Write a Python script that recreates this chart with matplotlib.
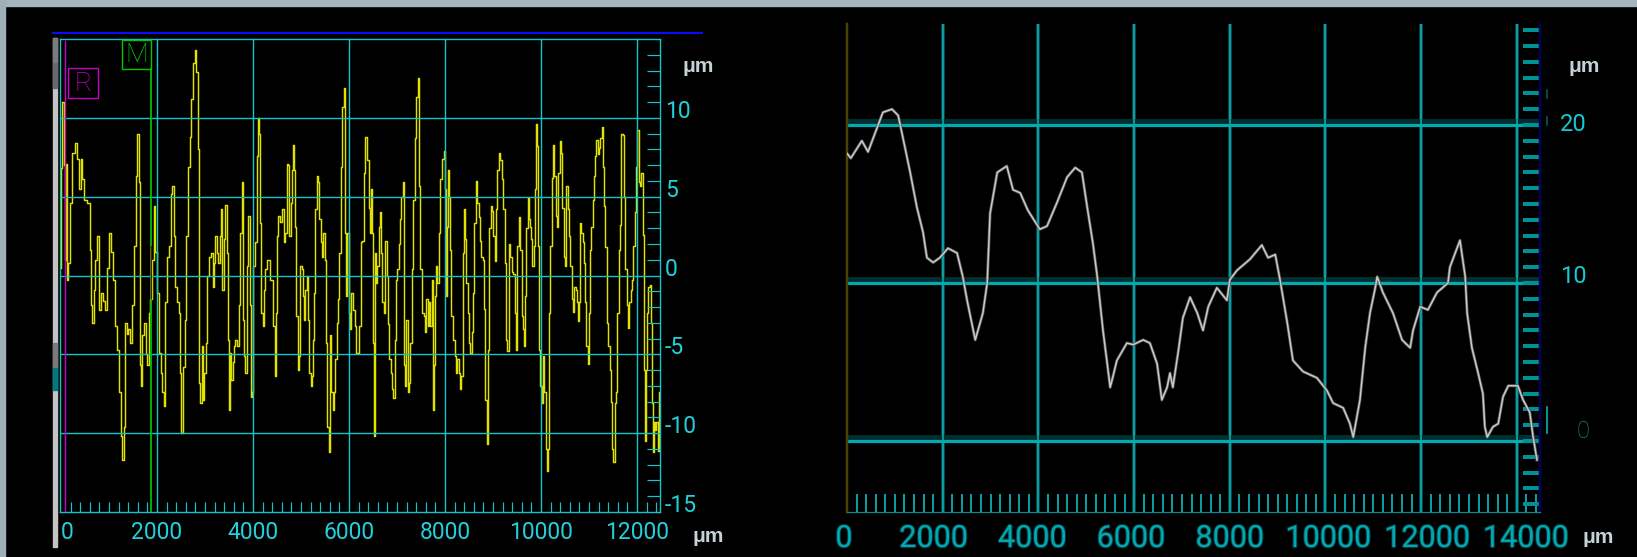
import numpy as np
import matplotlib
matplotlib.use("Agg")
import matplotlib.pyplot as plt
from matplotlib.lines import Line2D
from matplotlib.patches import Rectangle
from matplotlib.transforms import blended_transform_factory, ScaledTranslation
import matplotlib.patheffects as pe

# ---------------- data ----------------
# left profile (yellow), x in um, z in um
left_x = [0, 21, 42, 69, 90, 111, 139, 174, 215, 257, 312, 354, 396, 430, 465, 507, 583, 611, 638, 666,
          701, 736, 777, 812, 854, 895, 951, 985, 1027, 1062, 1103, 1145, 1187, 1228, 1263, 1298, 1326,
          1346, 1388, 1423, 1464, 1506, 1541, 1575, 1603, 1631, 1659, 1679, 1714, 1749, 1777, 1811, 1846,
          1881, 1909, 1950, 1985, 2020, 2054, 2096, 2124, 2158, 2193, 2235, 2270, 2304, 2332, 2367, 2394,
          2436, 2464, 2491, 2526, 2561, 2596, 2630, 2665, 2700, 2734, 2769, 2804, 2839, 2859, 2887, 2915,
          2943, 2970, 2998, 3033, 3067, 3102, 3144,
          3173, 3201, 3229, 3256, 3291, 3319, 3347, 3374, 3409, 3444, 3478, 3499, 3520, 3541, 3562, 3589,
          3617, 3652, 3687, 3721, 3756, 3784, 3805, 3832, 3853, 3881, 3916, 3943, 3964, 3992, 4013, 4061,
          4089, 4117, 4145, 4165, 4186, 4214, 4242, 4270, 4325, 4381, 4408, 4436, 4464, 4492, 4512, 4533,
          4589, 4630, 4658, 4686, 4714, 4741, 4769, 4797, 4825, 4846, 4866, 4894, 4915, 4943, 4971, 4998,
          5026, 5054, 5075, 5102, 5130, 5158, 5186, 5213, 5241, 5262, 5283, 5311, 5338, 5366, 5394, 5422,
          5449, 5477, 5505, 5533, 5560, 5588, 5616, 5644, 5671, 5699, 5727, 5755, 5782, 5810, 5845, 5873,
          5900, 5921, 5949, 5977, 6005, 6032, 6060, 6088, 6143, 6171, 6199, 6227, 6254,
          6291, 6326, 6361, 6395, 6423, 6444, 6472, 6492, 6506, 6534, 6555, 6583, 6603, 6631, 6659, 6687,
          6708, 6742, 6770, 6798, 6825, 6853, 6881, 6909, 6937, 6964, 6992, 7020, 7048, 7075, 7110, 7138,
          7159, 7179, 7207, 7235, 7263, 7290, 7318, 7353, 7381, 7415, 7443, 7471, 7492, 7540, 7568, 7596,
          7624, 7651, 7679, 7707, 7735, 7762, 7783, 7804, 7832, 7853, 7887, 7922, 7957, 7984, 8005, 8026,
          8047, 8068, 8089, 8109, 8130, 8158, 8186, 8214, 8241, 8269, 8297, 8325, 8352, 8380, 8408, 8429,
          8456, 8484, 8512, 8540, 8567, 8595, 8623, 8651, 8685, 8713, 8741, 8769, 8796, 8824, 8852, 8880,
          8907, 8935, 8963, 8991, 9019, 9046, 9074, 9102, 9137, 9171, 9199, 9227, 9255, 9282, 9310, 9345,
          9379,
          9401, 9436, 9464, 9491, 9519, 9554, 9582, 9609, 9637, 9665, 9686, 9707, 9734, 9755, 9783, 9804,
          9832, 9859, 9880, 9894, 9922, 9943, 9970, 9998, 10026, 10054, 10081, 10109, 10137, 10158, 10179,
          10206, 10234, 10262, 10290, 10317, 10345, 10373, 10401, 10428, 10456, 10484, 10512, 10539, 10567,
          10595, 10623, 10650, 10678, 10706, 10734, 10761, 10782, 10803, 10824, 10852, 10879, 10907, 10935,
          10956, 10984, 11004, 11032, 11060, 11088, 11115, 11143, 11171, 11199, 11226, 11254, 11282, 11310,
          11331, 11358, 11386, 11414, 11442, 11469, 11497, 11525, 11553, 11580, 11608, 11636, 11664, 11691,
          11719, 11747, 11775, 11802, 11830, 11858, 11886, 11914, 11941, 11969, 11997, 12025, 12052, 12080,
          12108, 12129, 12157, 12177, 12198, 12226, 12254, 12275, 12296, 12316, 12337, 12365, 12393, 12421,
          12448, 12476]
left_z = [0.5, 6.8, 11.0, 7.0, 1.0, 7.1, -0.3, 0.8, 4.6, 7.8, 8.4, 7.4, 5.5, 7.4, 6.1, 4.8, 4.6, 1.6, -1.9, -3.0,
          -0.9, 1.0, 2.5, -2.2, -1.1, -1.6, -2.2, 0.5, 2.7, 1.5, -0.3, -3.2, -4.7, -7.4, -10.2, -11.7, -9.6,
          -3.0, -3.7, -3.4, -4.3, -1.9, 1.9, 6.3, 9.0, 5.9, -5.7, -7.0, -3.8, -3.0, -5.0, -5.7, -2.4,
          -1.5, 1.0, 4.4, 1.5, -1.1, -4.9, -6.2, -7.4, -8.3, -1.7, 1.2, 1.9, 5.2, 5.7, 2.5, -0.7,
          -1.7, -2.4, -6.2, -10.0, -5.8, -2.8, 2.5, 6.9, 8.8, 11.2, 13.5, 14.3, 12.9, 8.0, -6.8, -8.1,
          -4.5, -7.9, -6.2, -4.3, 0.0, 1.2, 1.4,
          -0.7, 0.8, 2.5, 1.4, 0.8, 2.5, 4.2, -0.9, 2.3, 4.5, 1.4, -4.1, -8.5, -4.9, -6.6, -5.5,
          -4.5, -4.1, -4.5, -1.9, 2.7, 5.9, -2.8, -5.1, -6.2, 0.6, 3.8, -1.9, -7.7, -7.4, 0.6, 2.1,
          7.6, 10.0, 9.0, 3.3, -2.4, -3.2, -0.9, 0.4, 1.0, -0.3, -0.3, -3.2, -6.4, -2.4, 2.5, 3.8,
          3.4, 4.2, 2.1, 2.7, 7.1, 7.0, 2.5, 4.6, 6.7, 8.3, 6.7, 3.1, -2.6, -6.0, -5.1, 0.6,
          0.4, -1.3, -2.8, -0.9, 0.0, -2.8, -6.2, -7.0, -6.4, -4.1, -1.1, 4.2, 6.3, 5.9, 3.6, 2.1,
          1.2, 2.7, 1.0, -4.3, -9.6, -11.2, -3.8, -7.4, -8.5, -7.4, -5.3, -3.0, -1.5, 1.4, 6.9, 10.7,
          11.9, 2.7, -1.3, 2.7, -2.4, -3.4, -1.1, -2.2, -3.2, -4.9, -4.9, -3.2, 2.1,
          2.2, 6.5, 8.8, 7.3, 4.3, 2.7, 5.5, 2.7, -4.3, -10.2, 1.4, -0.5, 0.6, 3.1, 4.0, 1.4,
          -1.7, -2.4, 2.2, 0.0, -3.1, -5.3, -6.2, -7.2, -7.8, -4.1, -0.3, 0.4, 2.0, 3.6, 5.0, 5.9,
          -5.7, -7.0, -2.8, -7.4, -6.8, -4.3, 0.4, 4.8, 8.7, 11.3, 12.5, 5.7, 0.4, -2.4, -2.6, -3.6,
          -1.5, -3.2, -1.7, -3.2, -0.3, -8.5, -5.7, -1.3, 0.6, -0.5, 2.7, 6.1, 7.4, 7.9, 5.5, -1.3,
          3.1, 6.7, 5.0, 1.6, -2.6, -2.6, -4.1, -5.1, -6.2, -5.3, -6.2, -7.2, -6.4, 1.4, 4.2, 2.3,
          -0.5, -2.4, -4.3, -4.9, -3.6, -1.1, 3.3, 6.0, 4.6, 3.7, 2.2, 1.2, 1.0, -2.1, -7.9, -10.7,
          -4.7, 3.0, 4.4, 4.1, 2.5, 0.9, 4.2, 6.7, 7.8, 7.3, 6.1, 4.2, 0.8, -4.1, -4.8, 2.0,
          1.2,
          0.2, 0.1, -2.4, -4.7, 1.9, 3.7, 1.6, -2.6, -3.4, -4.5, -1.3, 3.0, 4.9, 3.6, 3.1, 2.3,
          0.6, 1.9, 5.5, 9.6, 8.2, 1.9, -4.7, -7.0, -8.1, -5.1, -7.4, -11.0, -12.4, -11.0, -2.4,
          1.9, 6.2, 8.3, 6.3, 3.8, 3.1, 6.5, 8.5, 7.8, 4.3, 1.2, 0.6, 5.7, 4.2,
          2.5, 0.6, -1.5, -2.3, -0.7, -0.9, -1.7, -2.9, -1.7, 3.3, 2.7, 2.1, 0.8, -1.7,
          -4.5, -5.6, -2.4, 1.6, 3.1, 4.8, 6.3, 7.6, 8.6, 7.7, 8.1, 8.7, 9.4, 6.9,
          4.4, 1.8, -3.0, -4.5, -6.0, -8.0, -11.0, -11.8, -8.1, -7.4, -2.4, 1.6, 3.2, 9.0,
          8.9, 5.0, 0.4, -1.9, -3.3, -1.7, -0.9, -0.3, 1.9, 4.0, 6.9, 9.2, 5.9, 5.7,
          6.5, 2.6, -6.0, -10.5, -6.0, -2.4, -0.7, -0.6, -3.0, -8.1, -11.2, -9.3, -9.8, -9.3,
          -11.1, -7.4]

# right profile (grey), x in um, z in um
right_x = [0, 80, 310, 440, 750, 940, 1070, 1210, 1320, 1460, 1590, 1670, 1800, 1940, 2110, 2300, 2420,
           2510, 2680, 2840, 2930, 2990, 3140, 3340, 3470, 3620, 3780, 4030, 4180, 4390, 4600, 4770, 4910,
           5020, 5140, 5230, 5350, 5430, 5500, 5560, 5640, 5850, 5980, 6190, 6330, 6480, 6580, 6690, 6750,
           6810, 6920, 7020, 7170, 7320, 7440, 7550, 7730, 7940, 8000, 8150, 8420, 8670, 8800, 8950, 9050,
           9200, 9320, 9530, 9820, 10030, 10160, 10370, 10510, 10580, 10720, 10830, 10930, 11040, 11080,
           11200, 11410, 11600, 11770, 11830, 11980, 12140, 12330, 12560, 12600, 12810, 12920, 12960, 13060,
           13190, 13290, 13330, 13380, 13500, 13610, 13710, 13820, 14020, 14130, 14270, 14340, 14420]
right_z = [18.2, 17.9, 19.0, 18.3, 20.8, 21.0, 20.6, 18.6, 17.0, 14.8, 13.2, 11.6, 11.3, 11.6, 12.2, 11.9, 10.4,
           8.9, 6.4, 8.1, 10.0, 14.4, 17.0, 17.4, 15.9, 15.7, 14.6, 13.4, 13.6, 15.1, 16.7, 17.3, 17.0,
           14.8, 12.5, 10.4, 7.0, 5.1, 3.4, 4.1, 5.1, 6.2, 6.1, 6.4, 6.2, 4.9, 2.6, 3.4, 4.3,
           3.4, 5.6, 7.8, 9.1, 8.1, 7.0, 8.5, 9.7, 8.9, 10.2, 10.8, 11.5, 12.4, 11.6, 11.8, 10.2,
           7.5, 5.1, 4.4, 4.0, 3.2, 2.4, 2.1, 1.1, 0.25, 2.6, 5.9, 8.1, 9.7, 10.4,
           9.4, 8.1, 6.4, 5.9, 7.0, 8.5, 8.3, 9.4, 10.0, 11.0, 12.7, 10.4, 8.1, 5.9,
           4.3, 3.0, 0.9, 0.25, 0.9, 1.1, 2.8, 3.5, 3.5, 2.6, 1.8, 0.25, -1.2]

left_xticks = [0, 2000, 4000, 6000, 8000, 10000, 12000]
left_yticks = [10, 5, 0, -5, -10, -15]
right_xticks = [0, 2000, 4000, 6000, 8000, 10000, 12000, 14000]
right_ygrid = [20, 10, 0]

# ---------------- figure ----------------
W, H = 1637, 557
fig = plt.figure(figsize=(W / 100, H / 100), dpi=100, facecolor="black")


def fx(px):
    return px / W


def fy(py):
    return 1 - py / H


PX = 72 / 100  # points per pixel
CY = "#14c4ca"
LABEL = "#22d0dc"
UNIT = "#c4d2d6"

# window chrome
fig.patches.append(Rectangle((0, fy(6)), 1, 6 / H, transform=fig.transFigure, color="#a6b6be", zorder=0))
fig.patches.append(Rectangle((0, 0), 5 / W, 1, transform=fig.transFigure, color="#a0b0b8", zorder=0))
# scrollbar at left
for (y0, y1, c) in [(38, 547, "#c4c4c4"), (38, 62, "#7c7c7c"), (63, 88, "#6a6a6a"),
                    (343, 367, "#7a7a7a"), (368, 390, "#007a80")]:
    fig.patches.append(Rectangle((fx(53), fy(y1)), 4 / W, (y1 - y0) / H,
                                 transform=fig.transFigure, color=c, zorder=1))
# blue line above left chart
fig.add_artist(Line2D([fx(53), fx(702)], [fy(33), fy(33)], color="#0a0aff", lw=2.0 * PX))

# ---------------- left chart ----------------
axL = fig.add_axes([fx(60), fy(512), 600 / W, 473 / H])
axL.set_facecolor("black")
axL.set_xlim(-20, 12480)
axL.set_ylim(-15, 15)
axL.plot(left_x, left_z, color="#e2e200", lw=1.45 * PX, zorder=1, drawstyle="steps-mid")

for s in axL.spines.values():
    s.set_color(CY)
    s.set_linewidth(1.4 * PX)

axL.set_xticks(left_xticks[1:])
axL.set_yticks([10, 5, 0, -5, -10])
axL.set_xticks(np.arange(200, 12401, 200), minor=True)
axL.set_yticks(np.arange(-14, 15, 1), minor=True)
axL.tick_params(which="major", length=0, labelbottom=False, labelleft=False)
axL.tick_params(axis="x", which="minor", direction="in", length=10 * PX, width=1.2 * PX,
                color=CY, bottom=True, top=False)
axL.tick_params(axis="y", which="minor", direction="in", length=13 * PX, width=1.2 * PX,
                color=CY, left=False, right=True)
axL.grid(True, which="major", color=CY, lw=1.4 * PX)
axL.set_axisbelow(False)

trY = blended_transform_factory(axL.transAxes, axL.transData)
for v in left_yticks:
    axL.text(1 + 5 / 600, v, str(v), transform=trY, ha="left", va="baseline",
             fontsize=16.5, color=LABEL, family="Roboto")
trX = blended_transform_factory(axL.transData, axL.transAxes)
for v in left_xticks:
    axL.text(v, -27 / 473, str(v), transform=trX,
             ha="left" if v == 0 else "center", va="baseline",
             fontsize=16.5, color=LABEL, family="Roboto")

# markers R / M
axL.axvline(77, ymin=0, ymax=1 - 2 / 473, color="#c800c8", lw=1.4 * PX, zorder=3)
axL.axvline(1881, ymin=0, ymax=(512 - 69) / 473, color="#00c000", lw=1.8 * PX, zorder=3)
axL.axvline(1866, ymin=(512 - 298) / 473, ymax=(512 - 246) / 473, color="#7a0000", lw=1.2 * PX, zorder=3)
fig.patches.append(Rectangle((fx(68), fy(98)), 30 / W, 30 / H, transform=fig.transFigure,
                             fill=False, edgecolor="#c800c8", lw=1.4 * PX, zorder=5))
fig.text(fx(83), fy(84), "R", ha="center", va="center", color="#c800c8", fontsize=19,
         family="Roboto", weight=100, zorder=6)
fig.patches.append(Rectangle((fx(122), fy(69)), 29 / W, 29 / H, transform=fig.transFigure,
                             fill=False, edgecolor="#00c800", lw=1.4 * PX, zorder=5))
fig.text(fx(136.5), fy(55), "M", ha="center", va="center", color="#00c800", fontsize=19,
         family="Roboto", weight=100, zorder=6)

fig.text(fx(683), fy(72), "μm", ha="left", va="baseline", color=UNIT, fontsize=15,
         family="Liberation Sans", weight="bold")
fig.text(fx(693), fy(542), "μm", ha="left", va="baseline", color=UNIT, fontsize=15,
         family="Liberation Sans", weight="bold")

# ---------------- right chart ----------------
axR = fig.add_axes([fx(847), fy(512), 693 / W, 488 / H])
axR.set_facecolor("black")
axR.set_xlim(0, 14483)
axR.set_ylim(-4.49, 26.39)

axR.spines["top"].set_visible(False)
axR.spines["left"].set_color("#4a4400")
axR.spines["left"].set_linewidth(2.5 * PX)
axR.spines["right"].set_color("#00005a")
axR.spines["right"].set_linewidth(2.5 * PX)
axR.spines["bottom"].set_color("#0a8a90")
axR.spines["bottom"].set_linewidth(1.2 * PX)

# vertical grid
axR.vlines(right_xticks[1:], 0, 1, transform=axR.get_xaxis_transform(), color="#03565c", lw=3.6 * PX, zorder=1)
axR.vlines(right_xticks[1:], 0, 1, transform=axR.get_xaxis_transform(), color="#10b4b8", lw=1.5 * PX, zorder=1.1)
# horizontal grid with dark band above
up = axR.get_yaxis_transform() + ScaledTranslation(0, 4 / 100, fig.dpi_scale_trans)
axR.hlines(right_ygrid, 0, 1, transform=up, color="#032e31", lw=5 * PX, zorder=1)
axR.hlines(right_ygrid, 0, 1, transform=axR.get_yaxis_transform(), color="#00acb0", lw=3.2 * PX, zorder=1.2)

axR.set_xticks([])
axR.set_yticks([])
axR.set_xticks(np.arange(200, 14401, 200), minor=True)
axR.set_yticks(np.arange(-4, 27, 1), minor=True)
axR.tick_params(axis="x", which="minor", direction="in", length=18 * PX, width=2.0 * PX,
                color="#0a9ca2", bottom=True, top=False, labelbottom=False)
axR.tick_params(axis="y", which="minor", direction="in", length=17 * PX, width=4.0 * PX,
                color="#019096", left=False, right=True, labelleft=False, labelright=False)

axR.plot(right_x, right_z, color="#cacaca", lw=1.5 * PX, zorder=4,
         path_effects=[pe.Stroke(linewidth=3.0 * PX, foreground="#555555"), pe.Normal()])

trRX = axR.transAxes
for v in right_xticks:
    cx = 844 if v == 0 else 835 + 0.04935 * v
    axR.text((cx - 847) / 693, -35 / 488, str(v), transform=trRX, ha="center", va="baseline",
             fontsize=22, color="#02a8b0", family="Roboto",
             path_effects=[pe.Stroke(linewidth=1.4, foreground="#003e44"), pe.Normal()])

trRY = blended_transform_factory(axR.transAxes, axR.transData)
axR.text(1 + 20 / 693, 19.6, "20", transform=trRY, ha="left", va="baseline",
         fontsize=17, color="#18c8d0", family="Roboto")
axR.text(1 + 20 / 693, 10.0, "10", transform=trRY, ha="left", va="baseline",
         fontsize=17, color="#18c8d0", family="Roboto")
axR.text(1 + 37 / 693, 0.2, "0", transform=trRY, ha="left", va="baseline",
         fontsize=17, color="#247f86", family="Roboto", weight="light")
fig.add_artist(Line2D([fx(1547), fx(1547)], [fy(407), fy(433)], color="#10b4bc", lw=1.6 * PX))
fig.add_artist(Line2D([fx(1547), fx(1547)], [fy(90), fy(98)], color="#0a5a60", lw=1.6 * PX))
fig.add_artist(Line2D([fx(1547), fx(1547)], [fy(117), fy(125)], color="#0a5a60", lw=1.6 * PX))

fig.text(fx(1568), fy(72), "μm", ha="left", va="baseline", color=UNIT, fontsize=15,
         family="Liberation Sans", weight="bold")
fig.text(fx(1583), fy(543), "μm", ha="left", va="baseline", color=UNIT, fontsize=15,
         family="Liberation Sans", weight="bold")

fig.savefig("out.png", dpi=100, facecolor="black")
